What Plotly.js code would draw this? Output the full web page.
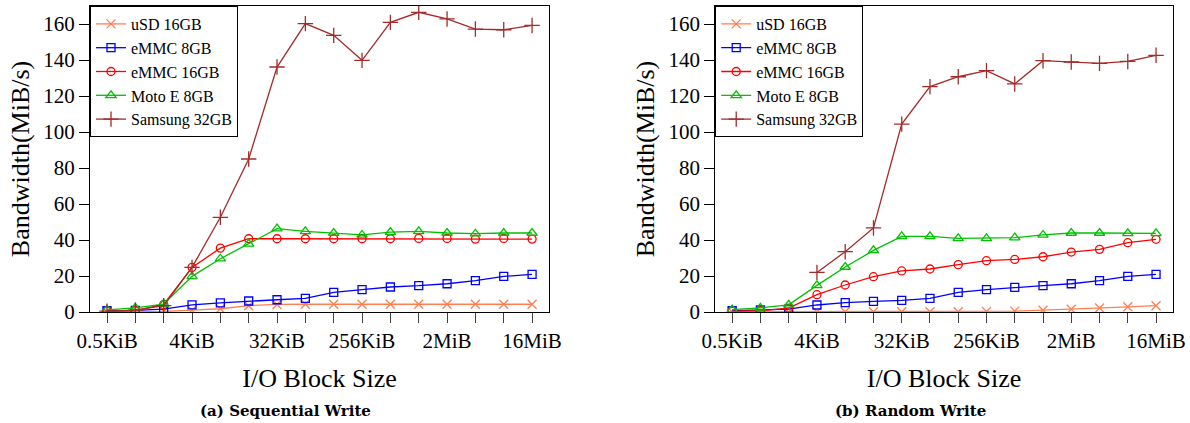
<!DOCTYPE html>
<html>
<head>
<meta charset="utf-8">
<script src="https://cdn.plot.ly/plotly-3.0.1.min.js"></script>
<style>
  html, body { margin: 0; padding: 0; background: #fff; }
  #chart { width: 1190px; height: 423px; }
</style>
</head>
<body>
<div id="chart"></div>
<script>
// ---- data ----
const blockSizes = ['0.5KiB','1KiB','2KiB','4KiB','8KiB','16KiB','32KiB','64KiB','128KiB','256KiB','512KiB','1MiB','2MiB','4MiB','8MiB','16MiB'];
const tickLabels = ['0.5KiB','','','4KiB','','','32KiB','','','256KiB','','','2MiB','','','16MiB'];
const seriesNames = ['uSD 16GB','eMMC 8GB','eMMC 16GB','Moto E 8GB','Samsung 32GB'];

// (a) Sequential Write, MiB/s
const seqUSD     = [0.2,0.3,0.3,1.0,1.8,3.5,4.2,4.3,4.3,4.3,4.3,4.3,4.3,4.3,4.3,4.3];
const seqEMMC8   = [0.7,0.9,1.6,4.0,5.1,6.1,6.8,7.6,10.9,12.4,13.9,14.6,15.7,17.4,19.8,20.9];
const seqEMMC16  = [0.5,0.8,4.2,24.8,35.5,40.7,40.7,40.7,40.7,40.7,40.7,40.9,40.9,40.5,40.9,40.5];
const seqMotoE   = [1.2,2.3,4.4,19.8,29.6,37.9,46.3,44.8,43.9,42.8,44.4,44.8,43.9,43.5,43.9,43.9];
const seqSamsung = [0.5,1.0,3.5,24.8,52.6,85.0,136.1,160.2,153.7,139.8,160.9,166.5,162.8,157.2,156.8,159.2];

// (b) Random Write, MiB/s
const rndUSD     = [0.1,0.1,0.1,0.1,0.1,0.1,0.1,0.1,0.1,0.3,0.5,1.0,1.5,2.2,2.9,3.5];
const rndEMMC8   = [0.7,1.1,1.6,3.9,5.2,5.9,6.5,7.6,10.9,12.4,13.7,14.6,15.7,17.4,19.8,20.9];
const rndEMMC16  = [0.5,0.7,2.2,9.6,15.0,19.6,22.8,23.9,26.3,28.5,29.2,30.7,33.3,34.8,38.5,40.4];
const rndMotoE   = [1.3,2.3,4.0,14.8,25.0,34.2,42.0,42.0,40.9,40.9,41.3,42.8,43.9,43.9,43.7,43.7];
const rndSamsung = [null,null,null,22.0,33.5,46.7,104.4,125.2,130.7,134.1,126.7,139.6,138.9,138.1,139.2,142.6];

const yTicks = [0,20,40,60,80,100,120,140,160];

// ---- styles ----
const colors  = ['#FF7F50','#0000FF','#FF0000','#00C000','#A52A2A'];
const symbols = ['x-thin-open','square-open','circle-open','triangle-up-open','cross-thin-open'];
const sizes   = [9,8,8,9,11];
const serif = 'Liberation Serif, Times New Roman, serif';

function mk(vals, i, xa, ya, leg) {
  return {
    type: 'scatter', mode: 'lines+markers',
    x: blockSizes, y: vals, name: seriesNames[i],
    xaxis: xa, yaxis: ya, legend: leg,
    connectgaps: false,
    line: { color: colors[i], width: 1.3 },
    marker: { symbol: symbols[i], size: sizes[i], color: colors[i],
              line: { color: colors[i], width: 1.3 } }
  };
}

const seq = [seqUSD, seqEMMC8, seqEMMC16, seqMotoE, seqSamsung];
const rnd = [rndUSD, rndEMMC8, rndEMMC16, rndMotoE, rndSamsung];
const traces = [];
seq.forEach((v,i) => traces.push(mk(v,i,'x','y','legend')));
rnd.forEach((v,i) => traces.push(mk(v,i,'x2','y2','legend2')));

function xax(domain, anchor) {
  return {
    domain: domain, anchor: anchor, type: 'category',
    categoryorder: 'array', categoryarray: blockSizes,
    tickmode: 'array', tickvals: blockSizes, ticktext: tickLabels,
    range: [-0.6, 15.6], autorange: false,
    ticks: 'outside', ticklen: 10, tickwidth: 1, tickcolor: '#444',
    showline: true, linecolor: '#000', linewidth: 1, mirror: true,
    showgrid: false, zeroline: false,
    tickfont: { family: serif, size: 21, color: '#000' },
    title: { text: 'I/O Block Size', font: { family: serif, size: 26, color: '#000' }, standoff: 16 }
  };
}
function yax(anchor) {
  return {
    domain: [0,1], anchor: anchor,
    range: [0, 170], autorange: false,
    tickmode: 'array', tickvals: yTicks, ticktext: yTicks.map(String),
    ticks: 'outside', ticklen: 10, tickwidth: 1, tickcolor: '#000',
    showline: true, linecolor: '#000', linewidth: 1, mirror: true,
    showgrid: false, zeroline: false,
    tickfont: { family: serif, size: 21, color: '#000' },
    title: { text: 'Bandwidth(MiB/s)', font: { family: serif, size: 26, color: '#000' }, standoff: 6 }
  };
}
function legendBox(x) {
  return {
    x: x, y: 1, xanchor: 'left', yanchor: 'top', xref: 'paper', yref: 'paper',
    bgcolor: '#fff', bordercolor: '#000', borderwidth: 1,
    font: { family: serif, size: 16, color: '#000' },
    tracegroupgap: 0, itemwidth: 30
  };
}

const xd1 = [0, 0.4239];
const xd2 = [0.5773, 1];
const capFont = { family: 'DejaVu Serif, serif', size: 15, color: '#000', weight: 'bold' };

const layout = {
  width: 1190, height: 423,
  margin: { l: 90, r: 17, t: 6, b: 111 },
  paper_bgcolor: '#fff', plot_bgcolor: '#fff',
  showlegend: true,
  font: { family: serif, color: '#000' },
  xaxis: xax(xd1, 'y'), yaxis: yax('x'),
  xaxis2: xax(xd2, 'y2'), yaxis2: yax('x2'),
  legend: legendBox(0), legend2: legendBox(xd2[0]),
  annotations: [
    { text: '(a) Sequential Write', xref: 'paper', yref: 'paper', x: 0.1801, y: -0.323,
      xanchor: 'center', yanchor: 'middle', showarrow: false, font: capFont },
    { text: '(b) Random Write', xref: 'paper', yref: 'paper', x: 0.7574, y: -0.323,
      xanchor: 'center', yanchor: 'middle', showarrow: false, font: capFont }
  ]
};

Plotly.newPlot('chart', traces, layout, { staticPlot: true, displayModeBar: false });
</script>
</body>
</html>
